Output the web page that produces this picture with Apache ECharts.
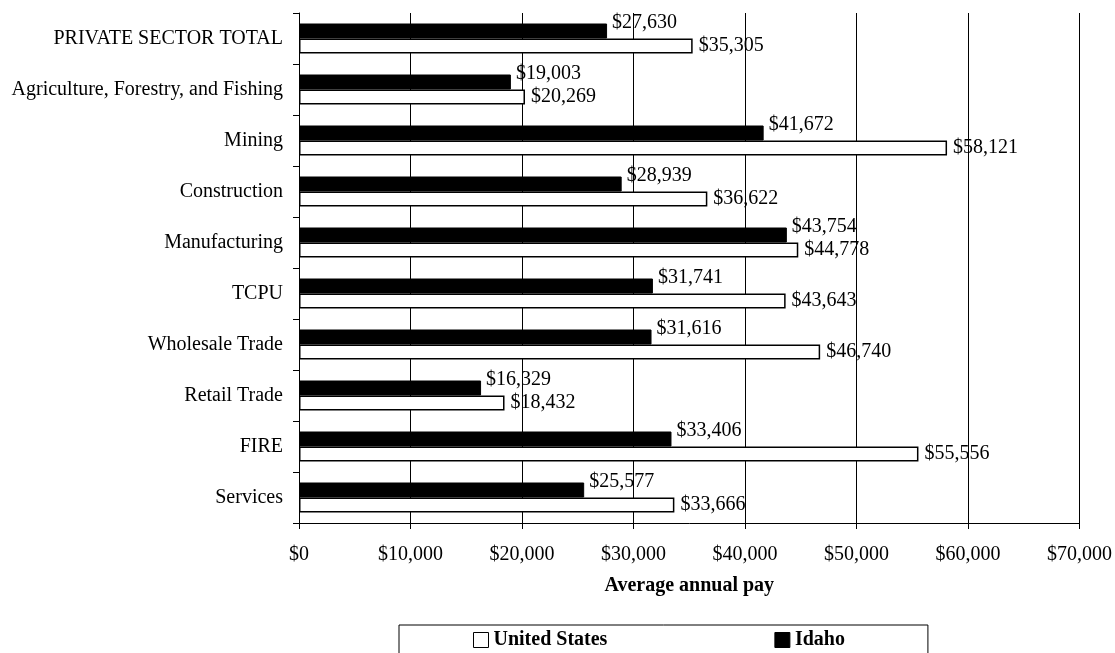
<!DOCTYPE html>
<html lang="en">
<head>
    <meta charset="UTF-8">
    <title>Average annual pay</title>
    <script src="https://cdn.jsdelivr.net/npm/echarts@6/dist/echarts.min.js"></script>
    <style>
        body { margin: 0; background: #fff; }
        #main { width: 1115px; height: 653px; }
    </style>
</head>
<body>
    <div id="main"></div>
    <script type="text/javascript">
        var categories = ['PRIVATE SECTOR TOTAL', 'Agriculture, Forestry, and Fishing', 'Mining', 'Construction',
            'Manufacturing', 'TCPU', 'Wholesale Trade', 'Retail Trade', 'FIRE', 'Services'];
        var idaho = [27630, 19003, 41672, 28939, 43754, 31741, 31616, 16329, 33406, 25577];
        var unitedStates = [35305, 20269, 58121, 36622, 44778, 43643, 46740, 18432, 55556, 33666];

        function money(v) {
            return '$' + Number(v).toLocaleString('en-US');
        }

        var myChart = echarts.init(document.getElementById('main'));
        var option = {
            animation: false,
            textStyle: { fontFamily: 'Liberation Serif', color: '#000' },
            grid: { left: 299, right: 35, top: 13, bottom: 130 },
            legend: {
                data: ['United States', 'Idaho'],
                left: 399,
                top: 625,
                orient: 'horizontal',
                itemWidth: 15,
                itemHeight: 15,
                itemGap: 167,
                padding: [5, 83, 12, 74],
                borderColor: '#000',
                borderWidth: 1,
                icon: 'rect',
                itemStyle: { borderWidth: 1, borderColor: '#000' },
                textStyle: { fontFamily: 'Liberation Serif', fontSize: 20, fontWeight: 'bold', color: '#000' }
            },
            xAxis: {
                type: 'value',
                min: 0,
                max: 70000,
                interval: 10000,
                name: 'Average annual pay',
                nameLocation: 'middle',
                nameGap: 53,
                nameTextStyle: { fontFamily: 'Liberation Serif', fontSize: 20, fontWeight: 'bold', color: '#000' },
                axisLine: { show: true, lineStyle: { color: '#000' } },
                axisTick: { show: true, length: 6, lineStyle: { color: '#000' } },
                splitLine: { show: true, lineStyle: { color: '#000', width: 1 } },
                axisLabel: {
                    formatter: money,
                    margin: 22,
                    fontSize: 20,
                    color: '#000',
                    fontFamily: 'Liberation Serif'
                }
            },
            yAxis: {
                type: 'category',
                inverse: true,
                data: categories,
                axisLine: { show: true, lineStyle: { color: '#000' } },
                axisTick: { show: true, length: 6, alignWithLabel: false, lineStyle: { color: '#000' } },
                axisLabel: { fontSize: 20, color: '#000', margin: 16, fontFamily: 'Liberation Serif' }
            },
            series: [{
                name: 'Idaho',
                type: 'bar',
                barWidth: 15,
                barGap: '0%',
                itemStyle: { color: '#000', borderColor: '#000', borderWidth: 1 },
                label: {
                    show: true,
                    position: 'right',
                    distance: 5,
                    offset: [0, -8],
                    formatter: function (p) { return money(p.value); },
                    fontSize: 20,
                    color: '#000',
                    fontFamily: 'Liberation Serif'
                },
                data: idaho
            }, {
                name: 'United States',
                type: 'bar',
                barWidth: 15,
                barGap: '0%',
                itemStyle: { color: '#fff', borderColor: '#000', borderWidth: 1.5 },
                label: {
                    show: true,
                    position: 'right',
                    distance: 6,
                    formatter: function (p) { return money(p.value); },
                    fontSize: 20,
                    color: '#000',
                    fontFamily: 'Liberation Serif'
                },
                data: unitedStates
            }]
        };
        myChart.setOption(option);
        window.onresize = myChart.resize;
    </script>
</body>
</html>
